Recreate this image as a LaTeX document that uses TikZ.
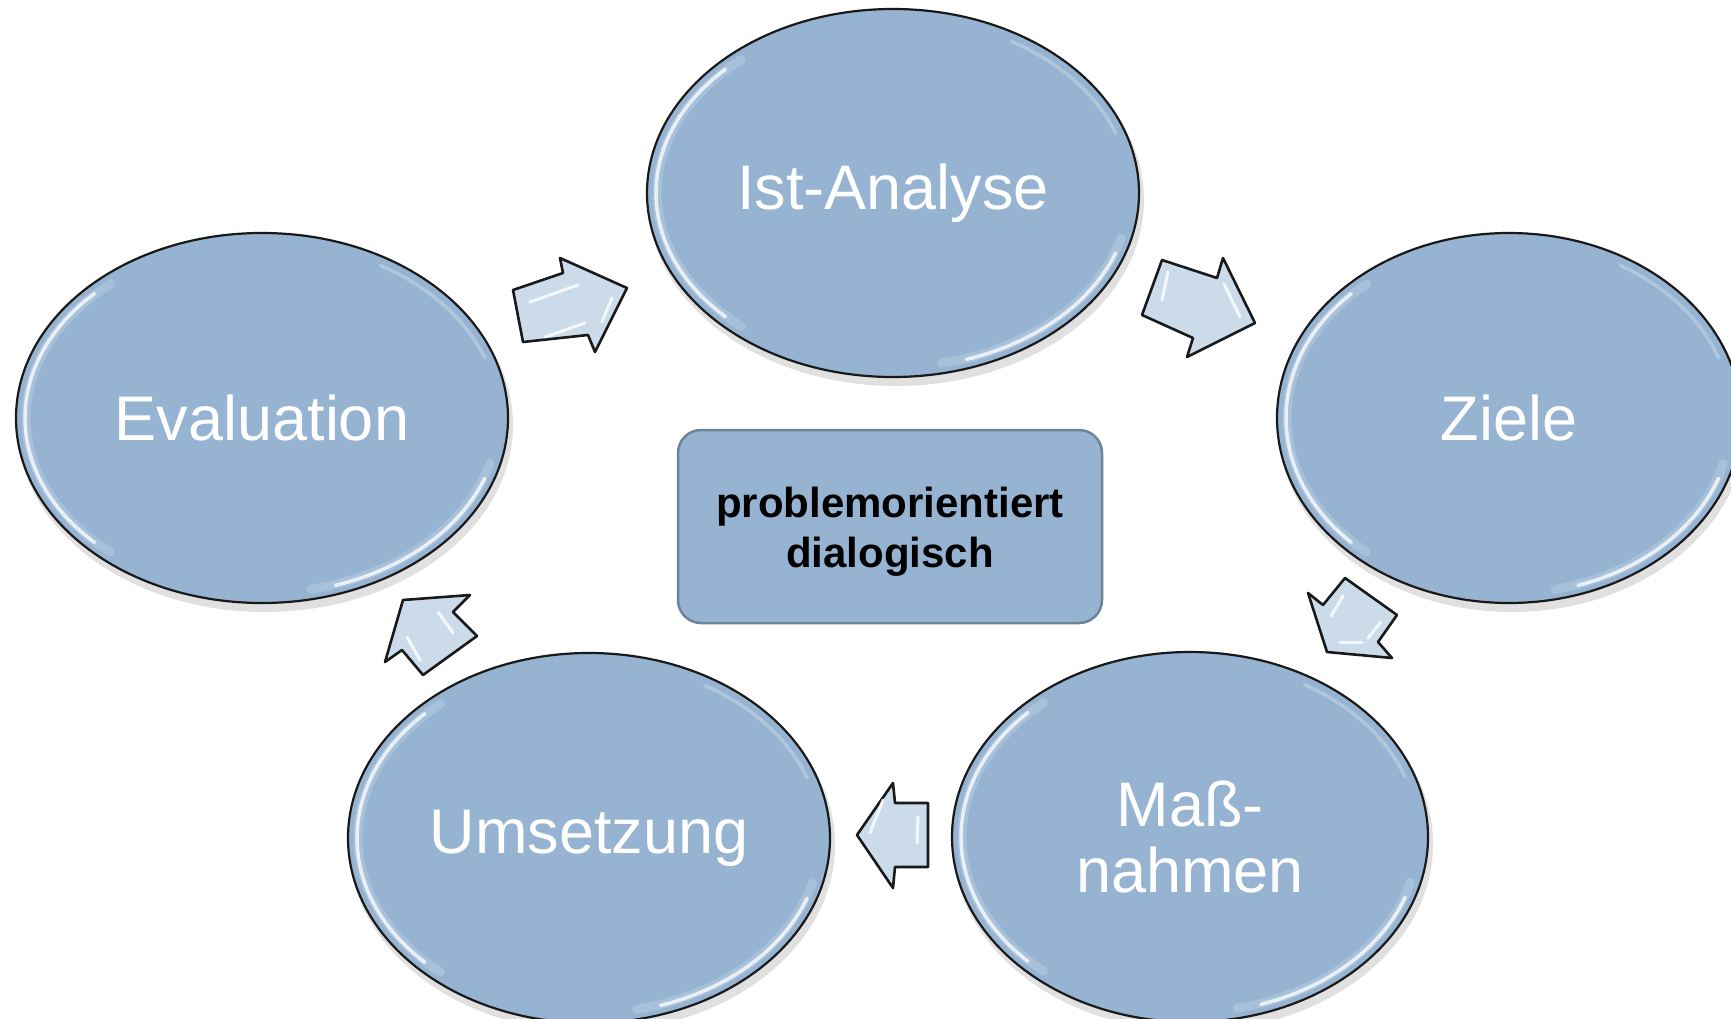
\documentclass[tikz,border=0pt]{standalone}
\usepackage{fontspec}
\setmainfont{Liberation Sans}
\usetikzlibrary{shapes.geometric}
\definecolor{bfill}{HTML}{96B4D2}
\definecolor{afill}{HTML}{CCDBEA}
\definecolor{bbord}{HTML}{6D8499}
\tikzset{
  bubble/.style={ellipse, fill=bfill, draw=black!90, line width=2.2pt, inner sep=0pt,
    text=white, font=\fontsize{63}{66}\selectfont, align=center},
  hl/.style={white, line width=3.5pt, opacity=0.75, line cap=round},
  hlsoft/.style={white, line width=9pt, opacity=0.18, line cap=round},
  blockarrow/.style={fill=afill, draw=black!90, line width=2.6pt, line join=round},
  streak/.style={white, line width=3pt, opacity=0.8, line cap=round},
  centerbox/.style={rectangle, rounded corners=23pt, fill=bfill, draw=bbord, line width=2.5pt,
    minimum width=424pt, minimum height=193pt},
  centertext/.style={align=center, font=\bfseries\fontsize{42}{50}\selectfont}
}
\newcommand\mkbubble[6]{%
  \fill[black,opacity=0.12] (#2+3,#3+7) ellipse[x radius=#4+2, y radius=#5+2];
  \node[bubble, minimum width={2*#4}, minimum height={2*#5}] (#1) at (#2,#3) {#6};
  \draw[hlsoft] plot[domain=130:230,samples=40] ({#2+(#4-10)*cos(\x)},{#3+(#5-10)*sin(\x)});
  \draw[hl] plot[domain=135:225,samples=40] ({#2+(#4-9)*cos(\x)},{#3+(#5-9)*sin(\x)});
  \draw[hlsoft] plot[domain=15:78,samples=30] ({#2+(#4-10)*cos(\x)},{#3+(#5-10)*sin(\x)});
  \draw[hl] plot[domain=20:72,samples=30] ({#2+(#4-9)*cos(\x)},{#3+(#5-9)*sin(\x)});
  \draw[hl,opacity=0.25] plot[domain=-60:-20,samples=30] ({#2+(#4-9)*cos(\x)},{#3+(#5-9)*sin(\x)});
}
\begin{document}
\begin{tikzpicture}[x=1pt,y=-1pt]
\useasboundingbox (0,0) rectangle (1731,1019);
\clip (0,0) rectangle (1731,1019);
\fill[white] (0,0) rectangle (1731,1019);

\mkbubble{ist}{893}{193}{246}{184}{Ist-Analyse}
\mkbubble{eval}{262}{418}{246}{185}{Evaluation}
\mkbubble{ziele}{1509}{418}{232}{185}{Ziele}
\mkbubble{mass}{1190}{837}{238}{185}{Maß-\\nahmen}
\mkbubble{ums}{589}{838}{241}{185}{Umsetzung}

\node[centerbox] (zentrum) at (890,526.5) {};
\node[centertext] (zentrumtext) at (890,532) {problemorientiert\\dialogisch};

% block arrows
\draw[blockarrow] (513,290) -- (563,273) -- (560,258) -- (627,288) -- (595,352) -- (588,335) -- (523,342) -- cycle;
\draw[streak] (530,302) -- (578,285);
\draw[streak] (545,337) -- (585,323);
\draw[streak] (612,298) -- (602,322);

\draw[blockarrow] (1162,260) -- (1217,278) -- (1223,258) -- (1255,323) -- (1187,357) -- (1193,338) -- (1142,315) -- cycle;
\draw[streak] (1168,272) -- (1162,300);
\draw[streak] (1224,284) -- (1240,317);

\draw[blockarrow] (1327,652) -- (1308,593) -- (1323,605) -- (1345,578) -- (1397,615) -- (1378,642) -- (1392,658) -- cycle;
\draw[streak] (1343,596) -- (1331,616);
\draw[streak] (1381,622) -- (1368,638);
\draw[streak] (1340,642) -- (1362,642);

\draw[blockarrow] (857,835) -- (893,783) -- (895,803) -- (928,803) -- (928,867) -- (895,867) -- (893,888) -- cycle;
\draw[streak] (883,800) -- (870,833);
\draw[streak] (918,817) -- (917,843);

\draw[blockarrow] (403,600) -- (470,595) -- (453,612) -- (477,636) -- (423,675) -- (402,650) -- (385,662) -- cycle;
\draw[streak] (438,612) -- (453,633);
\draw[streak] (407,637) -- (420,660);
\end{tikzpicture}
\end{document}
